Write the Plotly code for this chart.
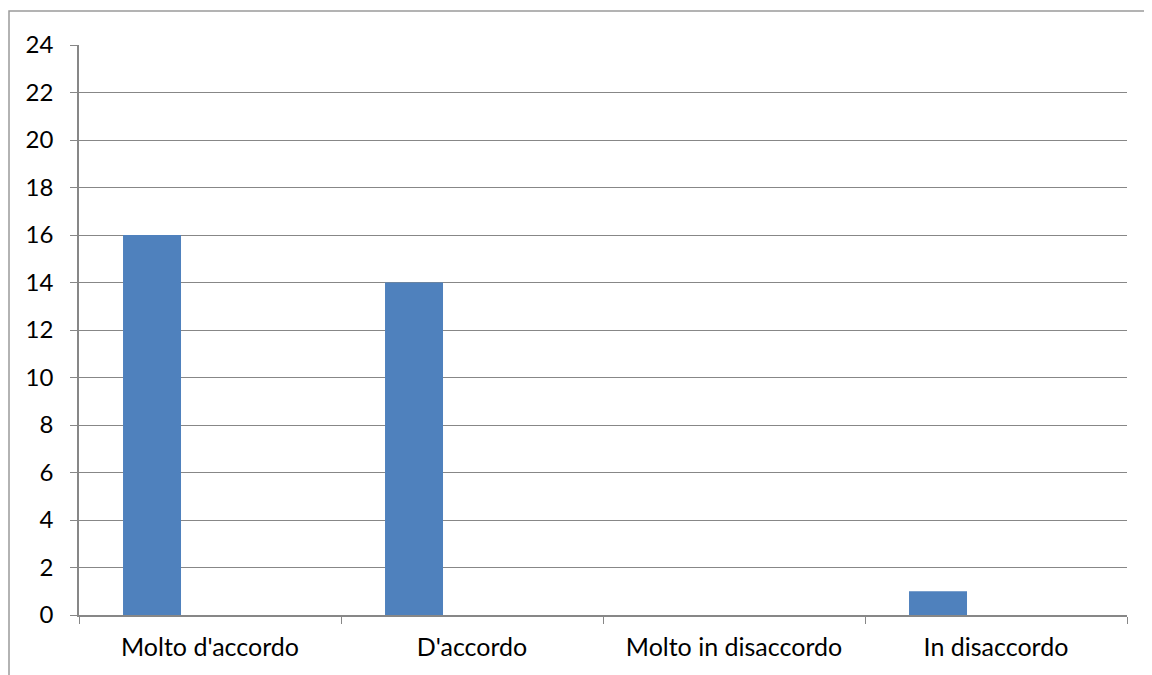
import plotly.graph_objects as go

categories = ["Molto d'accordo", "D'accordo", "Molto in disaccordo", "In disaccordo"]
series1 = [16, 14, 0, 1]
series2 = [0, 0, 0, 0]
series3 = [0, 0, 0, 0]
y_ticks = list(range(0, 25, 2))

OFF = 8  # page body margin
W, H = 1152 - OFF, 675 - OFF
L, R, T, B = 79 - OFF, 25, 45 - OFF, 60
pw, ph = W - L - R, H - T - B

fig = go.Figure()
fig.add_trace(go.Bar(x=categories, y=series1, marker=dict(color="#4F81BD", line=dict(width=0)), name="Serie1"))
fig.add_trace(go.Bar(x=categories, y=series2, marker=dict(color="#C0504D", line=dict(width=0)), name="Serie2"))
fig.add_trace(go.Bar(x=categories, y=series3, marker=dict(color="#9BBB59", line=dict(width=0)), name="Serie3"))

grey = "#878787"
fig.update_layout(
    width=W, height=H,
    margin=dict(l=L, r=R, t=T, b=B),
    paper_bgcolor="white", plot_bgcolor="white",
    barmode="group", bargap=0.336, bargroupgap=0,
    showlegend=False,
    font=dict(family="Lato, Open Sans, sans-serif", size=25, color="#000000"),
    xaxis=dict(type="category", tickson="boundaries", ticks="outside", ticklen=7, tickcolor=grey,
               showline=True, linecolor=grey, linewidth=1.5, showgrid=False, ticklabelstandoff=9),
    yaxis=dict(range=[0, 24], tickvals=y_ticks, ticks="outside", ticklen=7, tickcolor=grey,
               showline=True, linecolor=grey, linewidth=1.5, showgrid=True, gridcolor=grey, gridwidth=1.2,
               zeroline=False, ticklabelstandoff=12, tickfont=dict(size=24)),
)

# outer chart border (left and top edges visible)
fig.add_shape(type="rect", xref="paper", yref="paper",
              x0=(9 - OFF - L) / pw, x1=(W + 10 - L) / pw,
              y0=(T + ph - (H + 10)) / ph, y1=(T + ph - (11 - OFF)) / ph,
              line=dict(color="#9a9a9a", width=1.5), fillcolor="rgba(0,0,0,0)", layer="below")

fig.write_html("out.html")
